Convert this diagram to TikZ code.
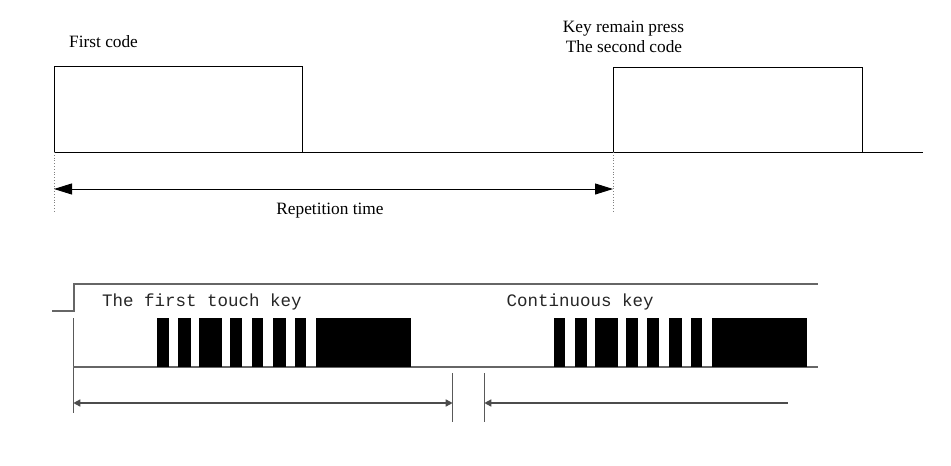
\documentclass[tikz,border=0pt]{standalone}
\usepackage{fontspec}
\setmainfont{Liberation Serif}
\newfontfamily\monofnt{Liberation Mono}
\usetikzlibrary{arrows.meta}
\tikzset{
  sig/.style={draw=black, line width=1pt},
  guide/.style={draw=gray, line width=0.8pt, dotted},
  bigdim/.style={draw=black, line width=1pt, {Triangle[length=18pt,width=11pt]}-{Triangle[length=18pt,width=11pt]}},
  lowsig/.style={draw=black!60, line width=1.8pt},
  lowthin/.style={draw=black!65, line width=1.5pt},
  bar/.style={fill=black, draw=none},
  serifl/.style={font=\fontsize{17.3pt}{20pt}\selectfont, inner sep=0pt},
  monol/.style={font=\monofnt\fontsize{17.5pt}{20pt}\selectfont, text=black!85, inner sep=0pt},
  smalltip/.style={line width=1.5pt, draw=black!70}
}
\begin{document}
\begin{tikzpicture}[x=1pt,y=-1pt]
\useasboundingbox (0,0) rectangle (951,466);
% ---------- top diagram ----------
\coordinate (a0) at (54,152);
\coordinate (a1) at (54,66.5);
\coordinate (a2) at (302.5,66.5);
\coordinate (a3) at (302.5,152);
\coordinate (b0) at (613,152);
\coordinate (b1) at (613,67);
\coordinate (b2) at (862,67);
\coordinate (b3) at (862,152);
\coordinate (base) at (923,152);
\coordinate (ga) at (54,213);
\coordinate (gb) at (613,213);
\coordinate (da) at (54,189);
\coordinate (db) at (613,189);
\draw[sig] (a0) -- (a1) -- (a2) -- (a3);
\draw[sig] (b0) -- (b1) -- (b2) -- (b3);
\draw[sig] (a0) -- (base);
\draw[guide] (a0) -- (ga);
\draw[guide] (b0) -- (gb);
\draw[bigdim] (da) -- (db);
\node[serifl, anchor=base west] (first) at (69,47.3) {First code};
\node[serifl, anchor=base] (keyrem) at (623.5,32.7) {Key remain press};
\node[serifl, anchor=base] (second) at (624,52.7) {The second code};
\node[serifl, anchor=base] (rep) at (330,214.3) {Repetition time};
% ---------- bottom diagram ----------
\coordinate (s0) at (52,311);
\coordinate (s1) at (74,311);
\coordinate (s2) at (74,284.3);
\coordinate (s3) at (818,284.3);
\draw[lowsig] (s0) -- (s1) -- (s2) -- (s3);
\coordinate (v0) at (73.3,318);
\coordinate (v1) at (73.3,413);
\draw[lowthin] (v0) -- (v1);
\coordinate (l0) at (73.3,367);
\coordinate (l1) at (818,367);
\draw[lowsig] (l0) -- (l1);
\foreach \xa/\xb in {157.3/169.3,178.3/190.7,199.3/222,230/242.3,251.7/263.3,273.3/285.7,295/306,315.7/410.7,
                     554/565.3,575/586.7,595.3/617.7,626/638.3,647.3/659.3,669.3/681.7,690.7/702,711.7/806.7}
  \fill[bar] (\xa,318.3) rectangle (\xb,367);
\node[monol, anchor=base west] (touch) at (102,306) {The first touch key};
\node[monol, anchor=base west] (cont) at (506.5,306) {Continuous key};
\coordinate (t1a) at (452.7,373);
\coordinate (t1b) at (452.7,422);
\coordinate (t2a) at (484.3,373);
\coordinate (t2b) at (484.3,422);
\draw[lowthin] (t1a) -- (t1b);
\draw[lowthin] (t2a) -- (t2b);
\coordinate (d1a) at (73.3,403);
\coordinate (d1b) at (452.7,403);
\coordinate (d2a) at (484.3,403);
\coordinate (d2b) at (788,403);
\draw[smalltip, {Triangle[length=7pt,width=7pt]}-{Triangle[length=7pt,width=7pt]}] (d1a) -- (d1b);
\draw[smalltip, {Triangle[length=7pt,width=7pt]}-] (d2a) -- (d2b);
\end{tikzpicture}
\end{document}
